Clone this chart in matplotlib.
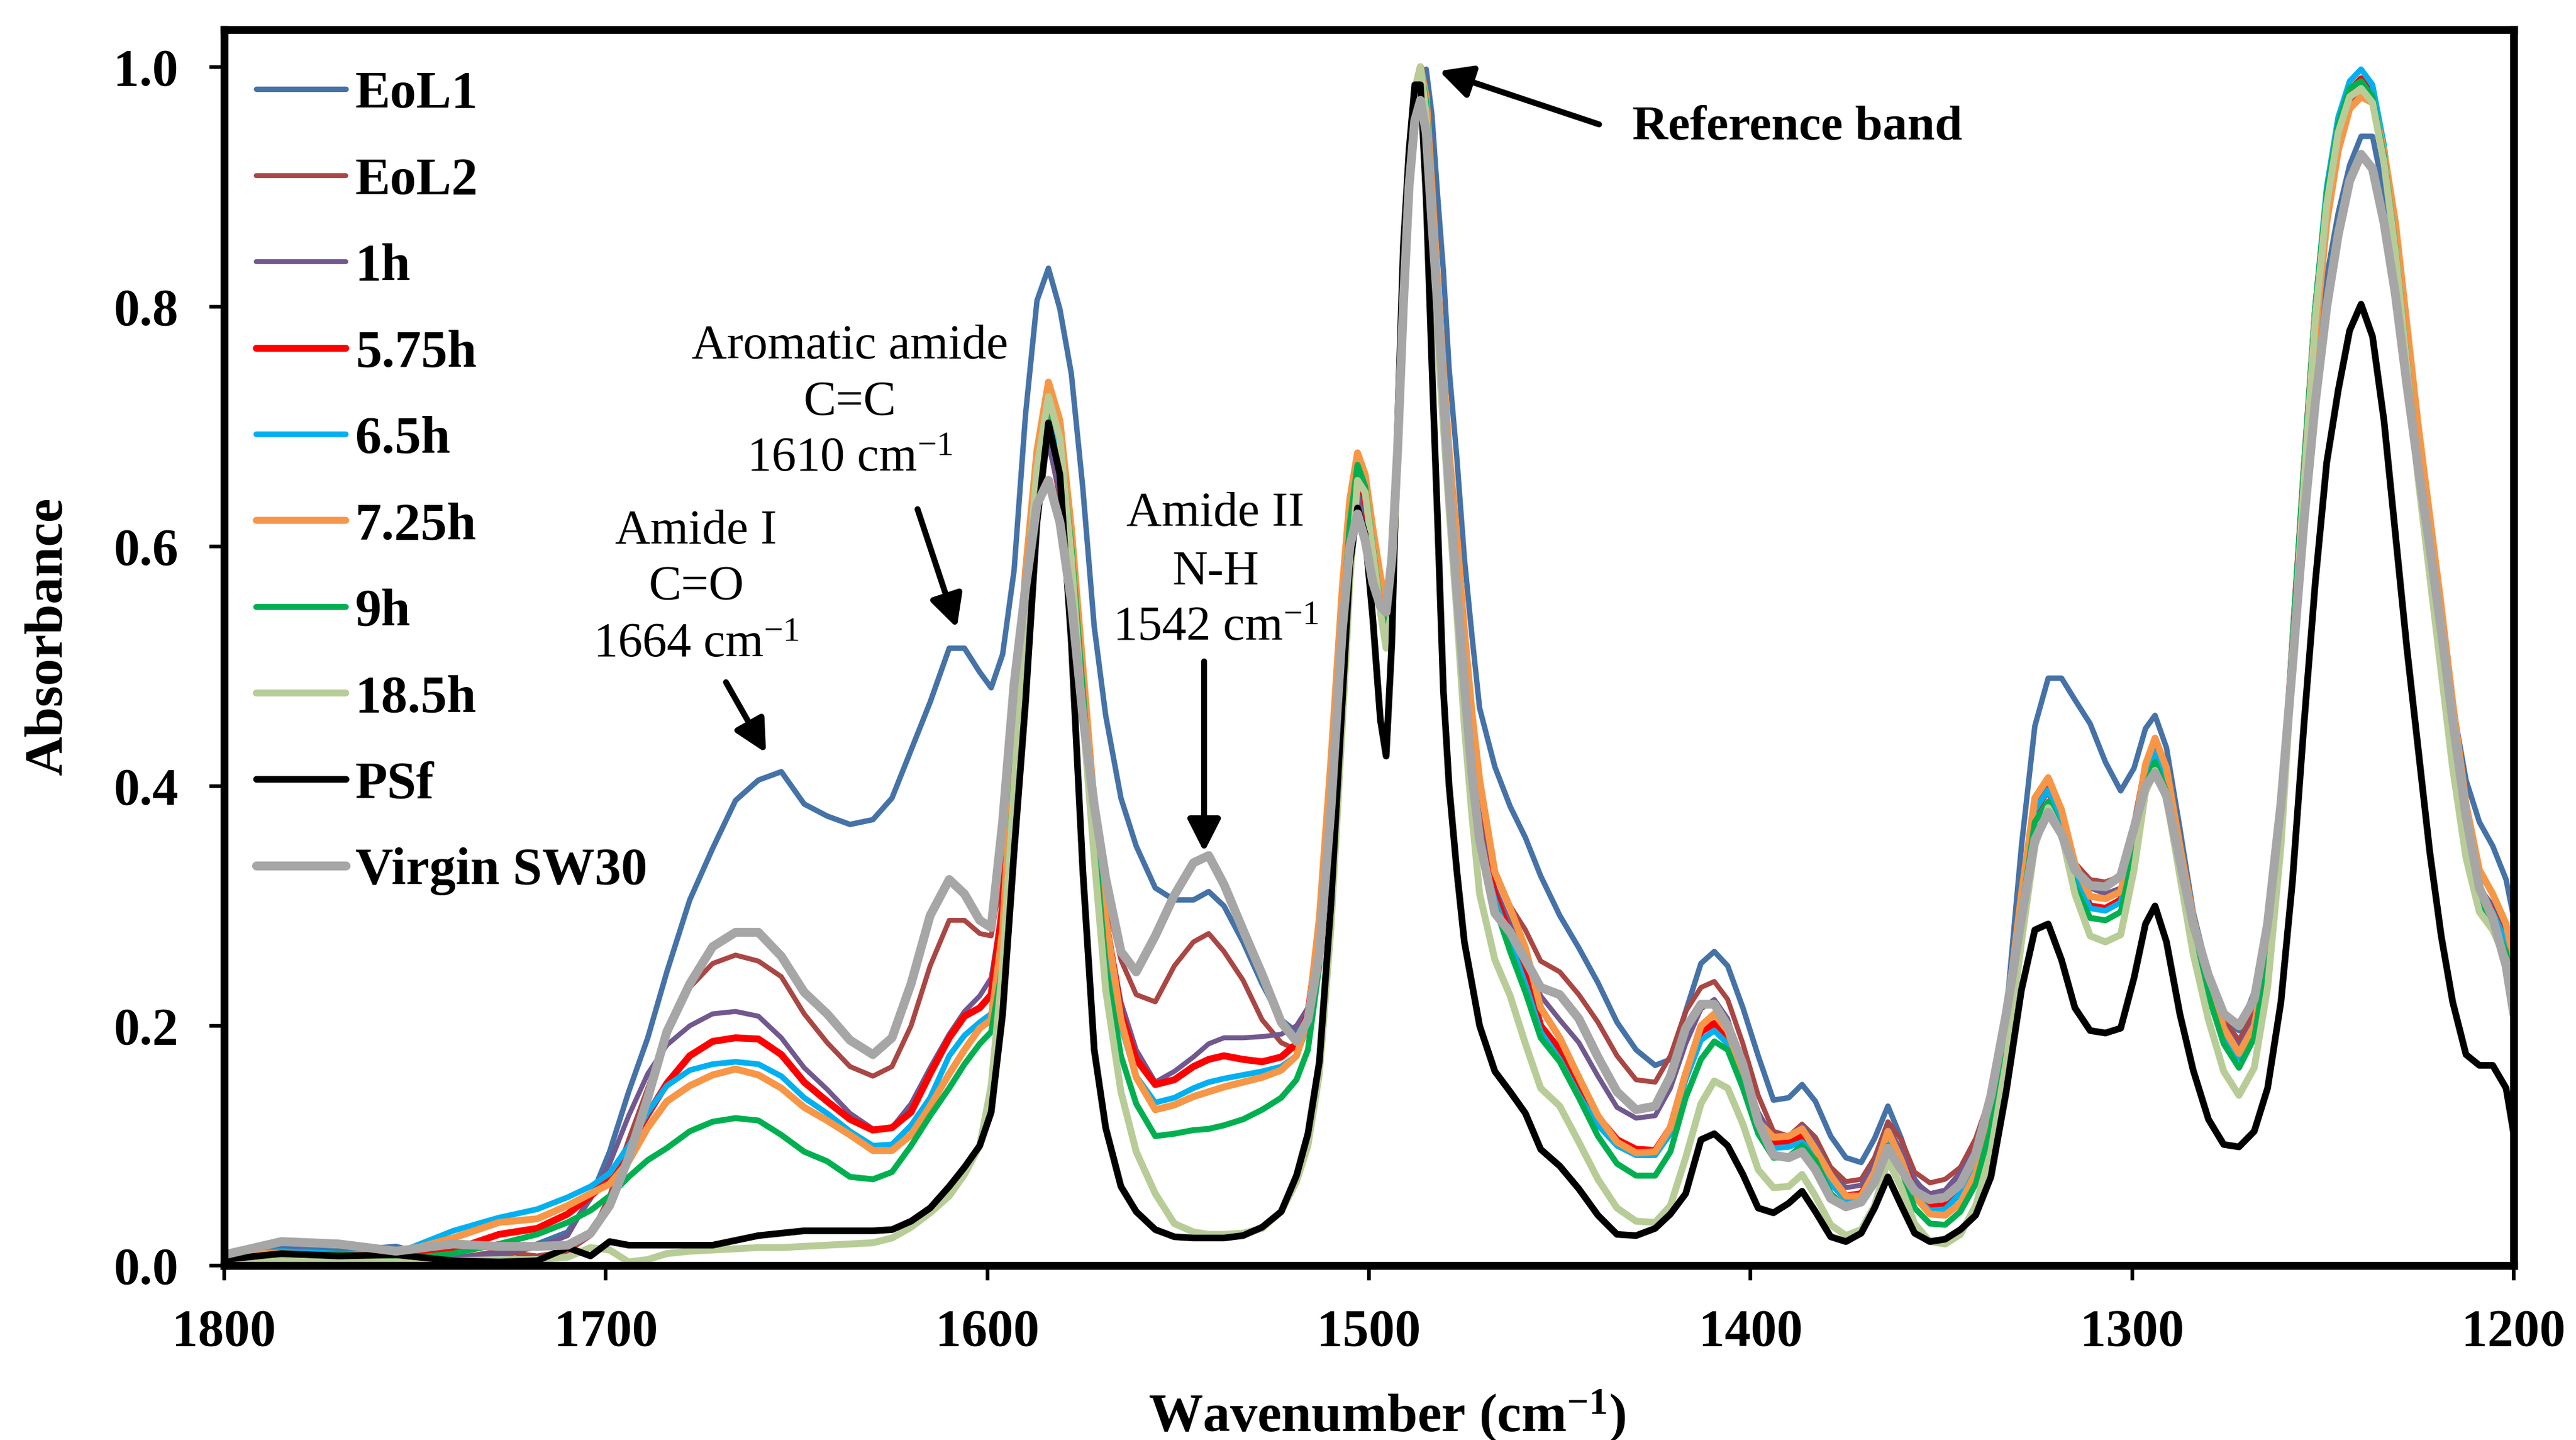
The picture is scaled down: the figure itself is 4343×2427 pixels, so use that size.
import matplotlib
matplotlib.use('Agg')
import matplotlib.pyplot as plt

plt.rcParams['font.family'] = ['Liberation Serif', 'DejaVu Serif']
plt.rcParams['mathtext.fontset'] = 'custom'
plt.rcParams['mathtext.rm'] = 'Liberation Serif'
plt.rcParams['mathtext.it'] = 'Liberation Serif:italic'
plt.rcParams['mathtext.bf'] = 'Liberation Serif:bold'

# ---------------- data ----------------
wn = [1800, 1785, 1770, 1755, 1740, 1728, 1718, 1710, 1704, 1699,
      1694, 1689, 1684, 1678, 1672, 1666, 1660, 1654, 1648, 1642,
      1636, 1630, 1625, 1620, 1615, 1610, 1606, 1602, 1599, 1596,
      1593, 1590, 1587, 1584, 1581, 1578, 1575, 1572, 1569, 1565,
      1561, 1556, 1551, 1546, 1542, 1538, 1533, 1528, 1523, 1519,
      1516, 1513, 1510, 1507, 1505, 1503, 1501, 1499, 1497, 1495.5,
      1494, 1492.5, 1491, 1489.5, 1488, 1486.5, 1485, 1483.5, 1482, 1480.5,
      1479, 1477, 1475, 1473, 1471, 1467, 1463, 1459, 1455, 1450,
      1445, 1440, 1435, 1430, 1425, 1421, 1417, 1413, 1409.5, 1406,
      1402, 1398, 1394, 1390, 1386.5, 1383, 1379, 1375, 1371, 1367.5,
      1364, 1360.5, 1357, 1353, 1349, 1345, 1341, 1337, 1333, 1329,
      1325.5, 1322, 1318.5, 1315, 1311, 1307, 1303, 1299.5, 1296.5, 1294,
      1291, 1287.5, 1284, 1280, 1276, 1272, 1268, 1264.5, 1261, 1258,
      1255, 1252, 1249, 1246, 1243, 1240, 1237, 1234, 1231, 1228,
      1225, 1222, 1219, 1216, 1212.5, 1209, 1205.5, 1202, 1200]

eol1 = [0.008, 0.015, 0.012, 0.016, 0.003, 0.006, 0.018, 0.028, 0.056, 0.095,
        0.145, 0.19, 0.245, 0.305, 0.348, 0.388, 0.405, 0.412, 0.385, 0.375,
        0.368, 0.372, 0.39, 0.43, 0.47, 0.515, 0.515, 0.495, 0.482, 0.51,
        0.58, 0.71, 0.805, 0.832, 0.798, 0.744, 0.649, 0.533, 0.459, 0.39,
        0.35, 0.315, 0.305, 0.305, 0.312, 0.30, 0.27, 0.235, 0.205, 0.195,
        0.21, 0.29, 0.41, 0.55, 0.62, 0.648, 0.62, 0.58, 0.545, 0.545,
        0.575, 0.68, 0.80, 0.905, 0.965, 0.995, 0.998, 0.96, 0.892, 0.83,
        0.748, 0.675, 0.59, 0.525, 0.465, 0.416, 0.383, 0.357, 0.325, 0.292,
        0.265, 0.236, 0.203, 0.18, 0.167, 0.172, 0.212, 0.252, 0.262, 0.25,
        0.215, 0.175, 0.138, 0.14, 0.151, 0.137, 0.108, 0.09, 0.086, 0.106,
        0.133, 0.106, 0.072, 0.056, 0.06, 0.075, 0.096, 0.134, 0.21, 0.35,
        0.45, 0.49, 0.49, 0.472, 0.452, 0.42, 0.396, 0.415, 0.448, 0.459,
        0.432, 0.365, 0.295, 0.243, 0.205, 0.196, 0.228, 0.29, 0.385, 0.5,
        0.63, 0.743, 0.825, 0.878, 0.918, 0.942, 0.942, 0.895, 0.825, 0.737,
        0.652, 0.6, 0.54, 0.468, 0.405, 0.37, 0.35, 0.322, 0.29]

eol2 = [0.005, 0.008, 0.004, 0.003, 0.006, 0.012, 0.008, 0.012, 0.025, 0.058,
        0.105, 0.148, 0.192, 0.232, 0.252, 0.259, 0.254, 0.241, 0.21, 0.186,
        0.166, 0.158, 0.166, 0.20, 0.25, 0.288, 0.288, 0.277, 0.275, 0.33,
        0.45, 0.56, 0.645, 0.688, 0.64, 0.555, 0.45, 0.37, 0.31, 0.255,
        0.226, 0.22, 0.25, 0.27, 0.277, 0.262, 0.238, 0.205, 0.186, 0.18,
        0.20, 0.27, 0.39, 0.53, 0.60, 0.638, 0.615, 0.58, 0.55, 0.535,
        0.56, 0.66, 0.78, 0.90, 0.975, 0.995, 0.965, 0.885, 0.80, 0.73,
        0.65, 0.565, 0.48, 0.42, 0.375, 0.33, 0.30, 0.28, 0.254, 0.245,
        0.226, 0.203, 0.175, 0.155, 0.153, 0.175, 0.212, 0.232, 0.237, 0.222,
        0.185, 0.142, 0.112, 0.108, 0.118, 0.107, 0.082, 0.07, 0.072, 0.09,
        0.12, 0.105, 0.078, 0.069, 0.072, 0.082, 0.106, 0.143, 0.21, 0.31,
        0.385, 0.406, 0.38, 0.336, 0.322, 0.32, 0.325, 0.37, 0.42, 0.435,
        0.41, 0.35, 0.29, 0.245, 0.205, 0.188, 0.212, 0.275, 0.38, 0.51,
        0.65, 0.78, 0.875, 0.935, 0.97, 0.985, 0.975, 0.925, 0.855, 0.76,
        0.67, 0.60, 0.52, 0.44, 0.36, 0.315, 0.30, 0.275, 0.25]

h1 = [0.006, 0.01, 0.006, 0.005, 0.007, 0.01, 0.015, 0.025, 0.058, 0.085,
      0.125, 0.16, 0.184, 0.20, 0.21, 0.212, 0.208, 0.19, 0.165, 0.147,
      0.127, 0.114, 0.115, 0.135, 0.165, 0.193, 0.212, 0.225, 0.24, 0.30,
      0.44, 0.56, 0.645, 0.685, 0.645, 0.565, 0.46, 0.36, 0.29, 0.22,
      0.18, 0.153, 0.162, 0.174, 0.185, 0.19, 0.19, 0.191, 0.193, 0.20,
      0.215, 0.27, 0.39, 0.53, 0.605, 0.645, 0.625, 0.585, 0.545, 0.525,
      0.56, 0.67, 0.79, 0.90, 0.975, 0.998, 0.965, 0.88, 0.795, 0.72,
      0.64, 0.555, 0.47, 0.41, 0.365, 0.315, 0.285, 0.255, 0.225, 0.205,
      0.186, 0.158, 0.132, 0.123, 0.125, 0.148, 0.185, 0.214, 0.222, 0.206,
      0.165, 0.128, 0.106, 0.106, 0.117, 0.102, 0.077, 0.065, 0.067, 0.085,
      0.115, 0.096, 0.07, 0.06, 0.063, 0.078, 0.097, 0.138, 0.205, 0.30,
      0.375, 0.398, 0.375, 0.335, 0.315, 0.31, 0.315, 0.36, 0.412, 0.43,
      0.408, 0.345, 0.287, 0.24, 0.20, 0.182, 0.205, 0.268, 0.375, 0.51,
      0.65, 0.785, 0.88, 0.94, 0.975, 0.99, 0.978, 0.93, 0.86, 0.765,
      0.675, 0.60, 0.52, 0.44, 0.36, 0.315, 0.30, 0.278, 0.25]

h5_75 = [0.004, 0.006, 0.004, 0.005, 0.013, 0.026, 0.031, 0.043, 0.058, 0.072,
         0.10, 0.126, 0.152, 0.175, 0.187, 0.19, 0.189, 0.176, 0.153, 0.137,
         0.122, 0.113, 0.115, 0.128, 0.16, 0.19, 0.208, 0.215, 0.226, 0.30,
         0.45, 0.57, 0.66, 0.715, 0.675, 0.59, 0.48, 0.37, 0.29, 0.21,
         0.172, 0.151, 0.155, 0.166, 0.172, 0.175, 0.172, 0.17, 0.174, 0.185,
         0.21, 0.28, 0.40, 0.545, 0.62, 0.66, 0.64, 0.595, 0.55, 0.523,
         0.56, 0.675, 0.80, 0.91, 0.98, 1.0, 0.97, 0.885, 0.80, 0.725,
         0.645, 0.555, 0.465, 0.40, 0.355, 0.31, 0.275, 0.245, 0.20, 0.18,
         0.152, 0.124, 0.105, 0.097, 0.096, 0.115, 0.16, 0.195, 0.202, 0.191,
         0.155, 0.118, 0.102, 0.102, 0.108, 0.097, 0.072, 0.058, 0.06, 0.075,
         0.105, 0.088, 0.062, 0.049, 0.05, 0.064, 0.087, 0.133, 0.205, 0.305,
         0.38, 0.397, 0.37, 0.325, 0.30, 0.298, 0.305, 0.355, 0.41, 0.43,
         0.405, 0.342, 0.283, 0.235, 0.195, 0.175, 0.20, 0.262, 0.375, 0.515,
         0.66, 0.795, 0.89, 0.95, 0.98, 0.99, 0.975, 0.925, 0.855, 0.76,
         0.67, 0.595, 0.515, 0.435, 0.355, 0.31, 0.295, 0.27, 0.24]

h6_5 = [0.01, 0.012, 0.01, 0.01, 0.029, 0.04, 0.047, 0.057, 0.066, 0.077,
        0.10, 0.128, 0.15, 0.163, 0.168, 0.17, 0.168, 0.158, 0.14, 0.127,
        0.112, 0.10, 0.101, 0.117, 0.14, 0.175, 0.192, 0.203, 0.21, 0.28,
        0.43, 0.56, 0.655, 0.708, 0.67, 0.585, 0.475, 0.36, 0.28, 0.20,
        0.158, 0.136, 0.14, 0.148, 0.153, 0.156, 0.159, 0.162, 0.166, 0.175,
        0.20, 0.275, 0.40, 0.545, 0.625, 0.665, 0.645, 0.60, 0.552, 0.522,
        0.56, 0.675, 0.80, 0.91, 0.98, 1.0, 0.97, 0.885, 0.80, 0.725,
        0.645, 0.555, 0.465, 0.40, 0.35, 0.305, 0.27, 0.235, 0.195, 0.172,
        0.142, 0.117, 0.10, 0.092, 0.092, 0.11, 0.155, 0.188, 0.196, 0.185,
        0.15, 0.113, 0.098, 0.099, 0.103, 0.093, 0.068, 0.055, 0.057, 0.072,
        0.102, 0.085, 0.058, 0.046, 0.047, 0.06, 0.084, 0.13, 0.205, 0.305,
        0.38, 0.397, 0.37, 0.325, 0.298, 0.296, 0.303, 0.352, 0.408, 0.428,
        0.403, 0.34, 0.28, 0.232, 0.193, 0.173, 0.198, 0.262, 0.375, 0.52,
        0.665, 0.80, 0.90, 0.958, 0.988, 0.998, 0.985, 0.935, 0.862, 0.765,
        0.672, 0.595, 0.515, 0.435, 0.355, 0.31, 0.295, 0.27, 0.235]

h7_25 = [0.01, 0.01, 0.008, 0.01, 0.023, 0.036, 0.039, 0.05, 0.06, 0.068,
         0.087, 0.115, 0.137, 0.15, 0.159, 0.164, 0.159, 0.148, 0.132, 0.121,
         0.109, 0.096, 0.096, 0.109, 0.133, 0.16, 0.18, 0.198, 0.205, 0.28,
         0.44, 0.58, 0.68, 0.737, 0.705, 0.615, 0.50, 0.385, 0.29, 0.205,
         0.157, 0.13, 0.134, 0.141, 0.145, 0.149, 0.153, 0.157, 0.163, 0.175,
         0.205, 0.29, 0.42, 0.565, 0.64, 0.678, 0.66, 0.615, 0.575, 0.555,
         0.585, 0.69, 0.81, 0.915, 0.98, 1.0, 0.975, 0.90, 0.82, 0.748,
         0.68, 0.61, 0.53, 0.461, 0.405, 0.328, 0.298, 0.265, 0.215, 0.19,
         0.157, 0.125, 0.103, 0.094, 0.095, 0.115, 0.16, 0.20, 0.21, 0.196,
         0.16, 0.12, 0.107, 0.108, 0.114, 0.097, 0.075, 0.058, 0.058, 0.078,
         0.112, 0.088, 0.058, 0.043, 0.042, 0.052, 0.077, 0.123, 0.205, 0.31,
         0.39, 0.407, 0.38, 0.335, 0.308, 0.306, 0.312, 0.36, 0.418, 0.44,
         0.415, 0.35, 0.29, 0.24, 0.198, 0.177, 0.20, 0.26, 0.365, 0.50,
         0.64, 0.775, 0.87, 0.93, 0.965, 0.975, 0.97, 0.93, 0.87, 0.785,
         0.70, 0.625, 0.55, 0.47, 0.385, 0.33, 0.31, 0.285, 0.255]

h9 = [0.004, 0.008, 0.01, 0.005, 0.01, 0.018, 0.026, 0.036, 0.046, 0.058,
      0.074, 0.088, 0.098, 0.112, 0.12, 0.123, 0.121, 0.109, 0.095, 0.087,
      0.074, 0.072, 0.078, 0.10, 0.125, 0.148, 0.168, 0.185, 0.195, 0.25,
      0.41, 0.56, 0.665, 0.718, 0.69, 0.60, 0.48, 0.36, 0.25, 0.175,
      0.135, 0.108, 0.11, 0.113, 0.114, 0.117, 0.122, 0.13, 0.14, 0.155,
      0.18, 0.25, 0.38, 0.535, 0.62, 0.668, 0.65, 0.60, 0.55, 0.527,
      0.56, 0.675, 0.80, 0.91, 0.98, 1.0, 0.97, 0.885, 0.80, 0.725,
      0.645, 0.555, 0.465, 0.40, 0.35, 0.30, 0.262, 0.228, 0.19, 0.17,
      0.14, 0.108, 0.085, 0.075, 0.075, 0.095, 0.14, 0.172, 0.187, 0.18,
      0.148, 0.11, 0.09, 0.091, 0.10, 0.088, 0.06, 0.049, 0.052, 0.068,
      0.10, 0.08, 0.048, 0.035, 0.034, 0.045, 0.068, 0.115, 0.20, 0.295,
      0.37, 0.387, 0.36, 0.316, 0.29, 0.288, 0.295, 0.345, 0.40, 0.42,
      0.395, 0.333, 0.273, 0.225, 0.185, 0.165, 0.19, 0.258, 0.372, 0.52,
      0.665, 0.80, 0.895, 0.952, 0.982, 0.988, 0.975, 0.925, 0.85, 0.755,
      0.66, 0.58, 0.50, 0.42, 0.345, 0.30, 0.285, 0.262, 0.23]

h18_5 = [0.003, 0.004, 0.003, 0.003, 0.004, 0.005, 0.005, 0.007, 0.015, 0.013,
         0.003, 0.005, 0.01, 0.012, 0.013, 0.014, 0.015, 0.015, 0.016, 0.017,
         0.018, 0.019, 0.023, 0.032, 0.044, 0.058, 0.076, 0.10, 0.15, 0.25,
         0.40, 0.55, 0.665, 0.725, 0.69, 0.59, 0.46, 0.34, 0.23, 0.145,
         0.095, 0.06, 0.035, 0.028, 0.026, 0.026, 0.027, 0.031, 0.045, 0.07,
         0.10, 0.16, 0.28, 0.45, 0.57, 0.655, 0.645, 0.595, 0.545, 0.515,
         0.55, 0.67, 0.80, 0.91, 0.98, 1.0, 0.96, 0.87, 0.77, 0.70,
         0.63, 0.545, 0.45, 0.375, 0.31, 0.255, 0.225, 0.185, 0.148, 0.133,
         0.103, 0.072, 0.048, 0.037, 0.036, 0.05, 0.09, 0.135, 0.154, 0.148,
         0.118, 0.08, 0.065, 0.066, 0.076, 0.058, 0.034, 0.025, 0.03, 0.05,
         0.088, 0.065, 0.035, 0.02, 0.018, 0.026, 0.05, 0.095, 0.17, 0.27,
         0.35, 0.382, 0.36, 0.31, 0.275, 0.27, 0.276, 0.33, 0.395, 0.413,
         0.39, 0.325, 0.26, 0.205, 0.162, 0.142, 0.165, 0.232, 0.35, 0.50,
         0.65, 0.79, 0.885, 0.945, 0.975, 0.982, 0.97, 0.92, 0.845, 0.75,
         0.655, 0.575, 0.495, 0.415, 0.34, 0.295, 0.28, 0.255, 0.22]

psf = [0.005, 0.01, 0.008, 0.009, 0.004, 0.003, 0.004, 0.015, 0.008, 0.02,
       0.017, 0.017, 0.017, 0.017, 0.017, 0.021, 0.025, 0.027, 0.029, 0.029,
       0.029, 0.029, 0.03, 0.037, 0.048, 0.066, 0.082, 0.10, 0.128, 0.21,
       0.345, 0.47, 0.62, 0.703, 0.66, 0.52, 0.33, 0.18, 0.115, 0.066,
       0.045, 0.03, 0.024, 0.023, 0.023, 0.023, 0.025, 0.032, 0.045, 0.075,
       0.11, 0.17, 0.30, 0.47, 0.585, 0.632, 0.61, 0.54, 0.455, 0.425,
       0.52, 0.70, 0.85, 0.93, 0.985, 0.985, 0.89, 0.75, 0.62, 0.48,
       0.40, 0.33, 0.27, 0.235, 0.20, 0.162, 0.145, 0.127, 0.097, 0.083,
       0.064, 0.042, 0.026, 0.025, 0.031, 0.043, 0.06, 0.105, 0.11, 0.10,
       0.076, 0.048, 0.044, 0.052, 0.062, 0.045, 0.024, 0.02, 0.027, 0.048,
       0.074, 0.05, 0.027, 0.02, 0.022, 0.03, 0.042, 0.074, 0.145, 0.23,
       0.28, 0.285, 0.255, 0.215, 0.196, 0.194, 0.198, 0.24, 0.285, 0.30,
       0.27, 0.21, 0.163, 0.122, 0.101, 0.099, 0.112, 0.148, 0.22, 0.32,
       0.45, 0.57, 0.67, 0.73, 0.78, 0.802, 0.775, 0.705, 0.61, 0.515,
       0.43, 0.345, 0.275, 0.22, 0.176, 0.167, 0.167, 0.148, 0.11]

virgin = [0.009, 0.02, 0.018, 0.012, 0.018, 0.016, 0.016, 0.017, 0.027, 0.05,
          0.09, 0.14, 0.195, 0.235, 0.266, 0.278, 0.278, 0.258, 0.228, 0.21,
          0.188, 0.176, 0.19, 0.235, 0.292, 0.322, 0.31, 0.288, 0.282, 0.37,
          0.485, 0.565, 0.635, 0.655, 0.62, 0.554, 0.459, 0.384, 0.323, 0.262,
          0.245, 0.275, 0.309, 0.336, 0.342, 0.318, 0.28, 0.243, 0.203, 0.187,
          0.205, 0.26, 0.38, 0.53, 0.60, 0.627, 0.605, 0.57, 0.55, 0.545,
          0.59, 0.68, 0.80, 0.90, 0.955, 0.972, 0.945, 0.87, 0.80, 0.728,
          0.65, 0.565, 0.485, 0.41, 0.355, 0.294, 0.278, 0.255, 0.232, 0.226,
          0.206, 0.174, 0.145, 0.13, 0.133, 0.158, 0.198, 0.218, 0.218, 0.20,
          0.168, 0.12, 0.092, 0.09, 0.095, 0.08, 0.056, 0.049, 0.053, 0.07,
          0.098, 0.08, 0.062, 0.055, 0.057, 0.068, 0.093, 0.142, 0.21, 0.29,
          0.355, 0.378, 0.36, 0.33, 0.317, 0.316, 0.325, 0.365, 0.40, 0.411,
          0.392, 0.338, 0.285, 0.242, 0.21, 0.20, 0.222, 0.285, 0.385, 0.50,
          0.62, 0.72, 0.80, 0.86, 0.905, 0.927, 0.915, 0.87, 0.81, 0.735,
          0.665, 0.60, 0.53, 0.455, 0.375, 0.315, 0.29, 0.25, 0.21]

labels = ['EoL1', 'EoL2', '1h', '5.75h', '6.5h', '7.25h', '9h', '18.5h', 'PSf', 'Virgin SW30']
values = [eol1, eol2, h1, h5_75, h6_5, h7_25, h9, h18_5, psf, virgin]
colors = ['#4572A7', '#AA4643', '#71588F', '#FF0000', '#00B0F0', '#F79646',
          '#00B050', '#B8CC97', '#000000', '#A6A6A6']
widths = [2.2, 2.0, 2.0, 2.8, 2.3, 2.8, 2.4, 2.8, 2.7, 3.6]

xticks = [1800, 1700, 1600, 1500, 1400, 1300, 1200]
yticks = [0.0, 0.2, 0.4, 0.6, 0.8, 1.0]

for v in values:
    assert len(v) == len(wn), len(v)

# ---------------- figure ----------------
W, H = 4343, 2427
fig = plt.figure(figsize=(W / 300, H / 300), dpi=300)
ax = fig.add_axes([378 / W, 1 - 2133 / H, (4238 - 378) / W, (2133 - 50) / H])

for lab, v, c, lw in zip(labels, values, colors, widths):
    ax.plot(wn, v, color=c, lw=lw, label=lab, solid_joinstyle='round',
            solid_capstyle='round')

ax.set_xlim(1800, 1200)
ax.set_ylim(0, 1.031)
ax.set_xticks(xticks)
ax.set_xticklabels([str(t) for t in xticks], fontweight='bold', fontsize=21)
ax.set_yticks(yticks)
ax.set_yticklabels(['%.1f' % t for t in yticks], fontweight='bold', fontsize=21)
ax.tick_params(axis='both', direction='out', length=6, width=1.5)
ax.tick_params(axis='x', pad=11.5)
ax.tick_params(axis='y', pad=12.5)
ax.tick_params(top=False, right=False)
for s in ax.spines.values():
    s.set_linewidth(3.2)

ax.set_xlabel(r'Wavenumber (cm$^{\mathbf{-1}}$)', fontweight='bold', fontsize=22)
ax.set_ylabel('Absorbance', fontweight='bold', fontsize=22)
ax.xaxis.set_label_coords(0.508, -0.0994)
ax.yaxis.set_label_coords(-0.066, 0.509)

ax.legend(loc='upper left', bbox_to_anchor=(0.014, 0.9667), frameon=False,
          prop={'family': 'Liberation Serif', 'weight': 'bold', 'size': 21.3},
          handlelength=1.7, handletextpad=0.18, labelspacing=0.724,
          borderpad=0, borderaxespad=0)

# ---------------- annotations ----------------
afs = 19.8
ax.text(1676.3, 0.6025, 'Amide I', ha='center', va='baseline', fontsize=afs)
ax.text(1676.3, 0.556, 'C=O', ha='center', va='baseline', fontsize=afs)
ax.text(1676.3, 0.508, '1664 cm$^{-1}$', ha='center', va='baseline', fontsize=afs)

ax.text(1636.1, 0.757, 'Aromatic amide', ha='center', va='baseline', fontsize=afs)
ax.text(1636.1, 0.710, 'C=C', ha='center', va='baseline', fontsize=afs)
ax.text(1636.1, 0.663, '1610 cm$^{-1}$', ha='center', va='baseline', fontsize=afs)

ax.text(1540.2, 0.617, 'Amide II', ha='center', va='baseline', fontsize=afs)
ax.text(1540.2, 0.568, 'N-H', ha='center', va='baseline', fontsize=afs)
ax.text(1540.2, 0.522, '1542 cm$^{-1}$', ha='center', va='baseline', fontsize=afs)

ax.text(1431.0, 0.9396, 'Reference band', ha='left', va='baseline',
        fontsize=20, fontweight='bold')

arrow_kw = dict(arrowstyle='-|>,head_length=0.55,head_width=0.28', color='black',
                lw=2.4, shrinkA=0, shrinkB=0, mutation_scale=20)
ax.annotate('', xy=(1658.0, 0.4277), xytext=(1668.5, 0.4866), arrowprops=arrow_kw)
ax.annotate('', xy=(1608.0, 0.532), xytext=(1618.3, 0.631), arrowprops=arrow_kw)
ax.annotate('', xy=(1543.2, 0.345), xytext=(1543.2, 0.504), arrowprops=arrow_kw)
ax.annotate('', xy=(1481.6, 0.9965), xytext=(1439.7, 0.952), arrowprops=arrow_kw)

fig.savefig('out.png', dpi=300)
